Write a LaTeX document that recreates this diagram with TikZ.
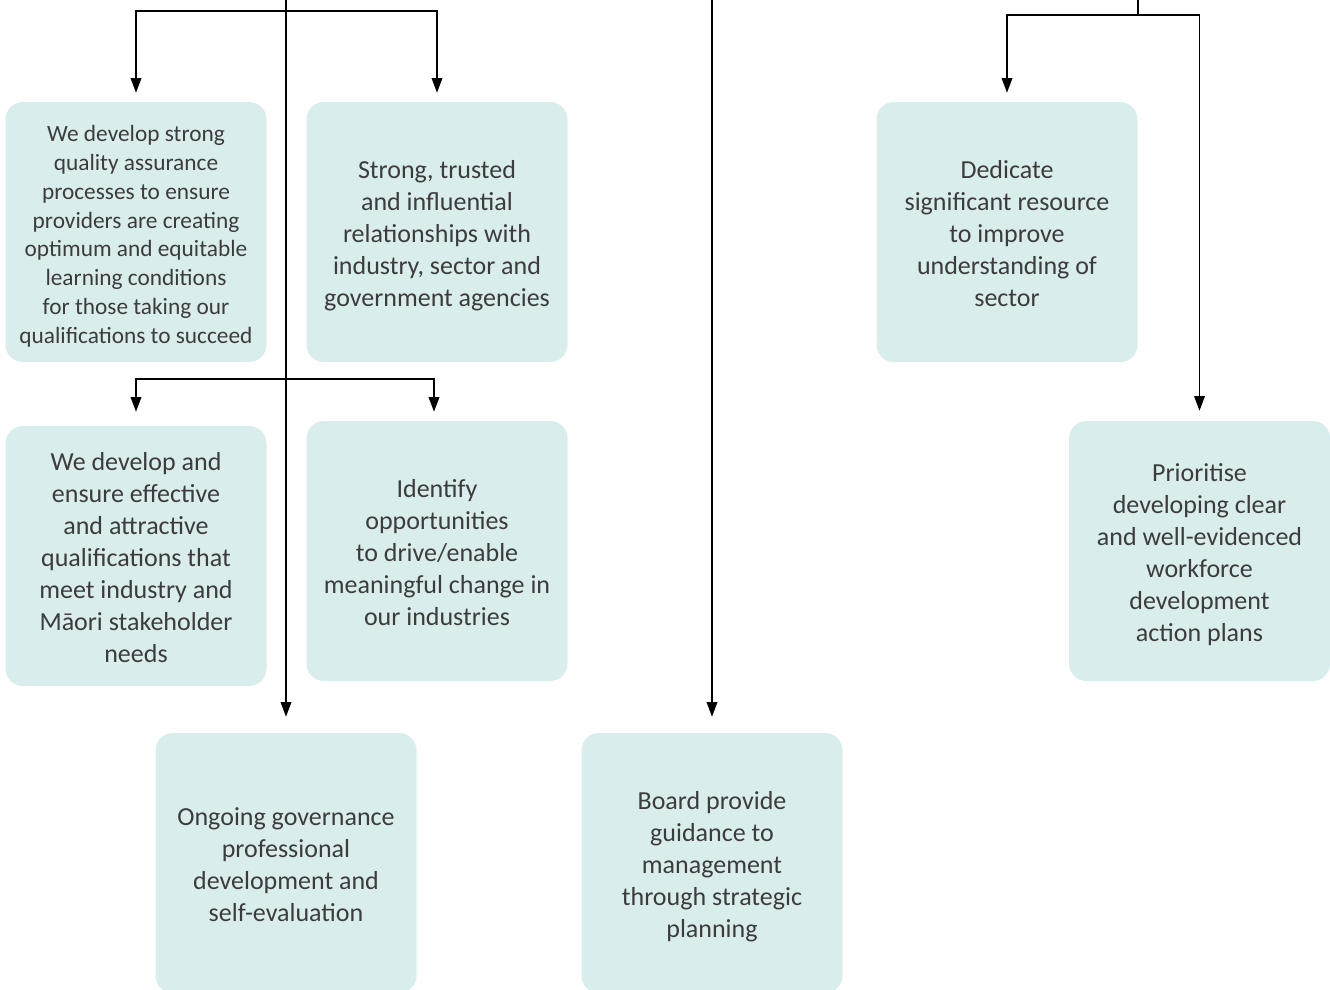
\documentclass[tikz,border=0pt]{standalone}
\usepackage{fontspec}
\setmainfont{Carlito}
\usetikzlibrary{arrows.meta}
\definecolor{boxfill}{HTML}{DAEDED}
\definecolor{txt}{HTML}{3C3C3C}
\newcommand\cardtop{\rule{0pt}{20.5pt}}
\newcommand\cardbot{\rule[-5.4pt]{0pt}{5.4pt}}
\newcommand\smalltop{\rule{0pt}{20pt}}
\newcommand\smallbot{\rule[-4.4pt]{0pt}{4.4pt}}
\begin{document}
\begin{tikzpicture}[x=0.75pt,y=-0.75pt,
  card/.style={fill=boxfill, rounded corners=13pt, minimum width=195.75pt,
    minimum height=195pt, align=center, text=txt, inner sep=0pt,
    font=\fontsize{19.5}{24}\selectfont},
  smallcard/.style={card, font=\fontsize{17.5}{21.6}\selectfont},
  link/.style={line width=1pt, -{Triangle[length=11pt,width=8pt]}},
  plain/.style={line width=1pt}]
\useasboundingbox (0,0) rectangle (1330,989);

\node[smallcard] (qa) at (136,232) {\smalltop We develop strong\\quality assurance\\processes to ensure\\providers are creating\\optimum and equitable\\learning conditions\\for those taking our\\qualifications to succeed\smallbot};
\node[card] (st) at (437,232) {\cardtop Strong, trusted\\and influential\\relationships with\\industry, sector and\\government agencies\cardbot};
\node[card] (we) at (136,556) {\cardtop We develop and\\ensure effective\\and attractive\\qualifications that\\meet industry and\\Māori stakeholder\\needs\cardbot};
\node[card] (id) at (437,551) {\cardtop Identify\\opportunities\\to drive/enable\\meaningful change in\\our industries\cardbot};
\node[card] (og) at (286,863) {\cardtop Ongoing governance\\professional\\development and\\self-evaluation\cardbot};
\node[card] (bd) at (712,863) {\cardtop Board provide\\guidance to\\management\\through strategic\\planning\cardbot};
\node[card] (de) at (1007,232) {\cardtop Dedicate\\significant resource\\to improve\\understanding of\\sector\cardbot};
\node[card] (pr) at (1199.5,551) {\cardtop Prioritise\\developing clear\\and well-evidenced\\workforce\\development\\action plans\cardbot};

\coordinate (t1) at (286,0);
\coordinate (j1) at (286,11);
\coordinate (j2) at (286,379);
\coordinate (t2) at (712,0);
\coordinate (t3) at (1138,0);
\coordinate (j3) at (1138,15);

\draw[link, shorten >=12pt] (t1) -- (og.north);
\draw[link, shorten >=6.75pt] (j1) -| (qa.north);
\draw[link, shorten >=6.75pt] (j1) -| (st.north);
\draw[link, shorten >=10.5pt] (j2) -| (we.north);
\draw[link, shorten >=6.75pt] (j2) -| ([xshift=-2.25pt]id.north);
\draw[link, shorten >=12pt] (t2) -- (bd.north);
\draw[plain] (t3) -- (j3);
\draw[link, shorten >=6.75pt] (j3) -| (de.north);
\draw[link, shorten >=7.5pt] (j3) -| (pr.north);
\end{tikzpicture}
\end{document}
